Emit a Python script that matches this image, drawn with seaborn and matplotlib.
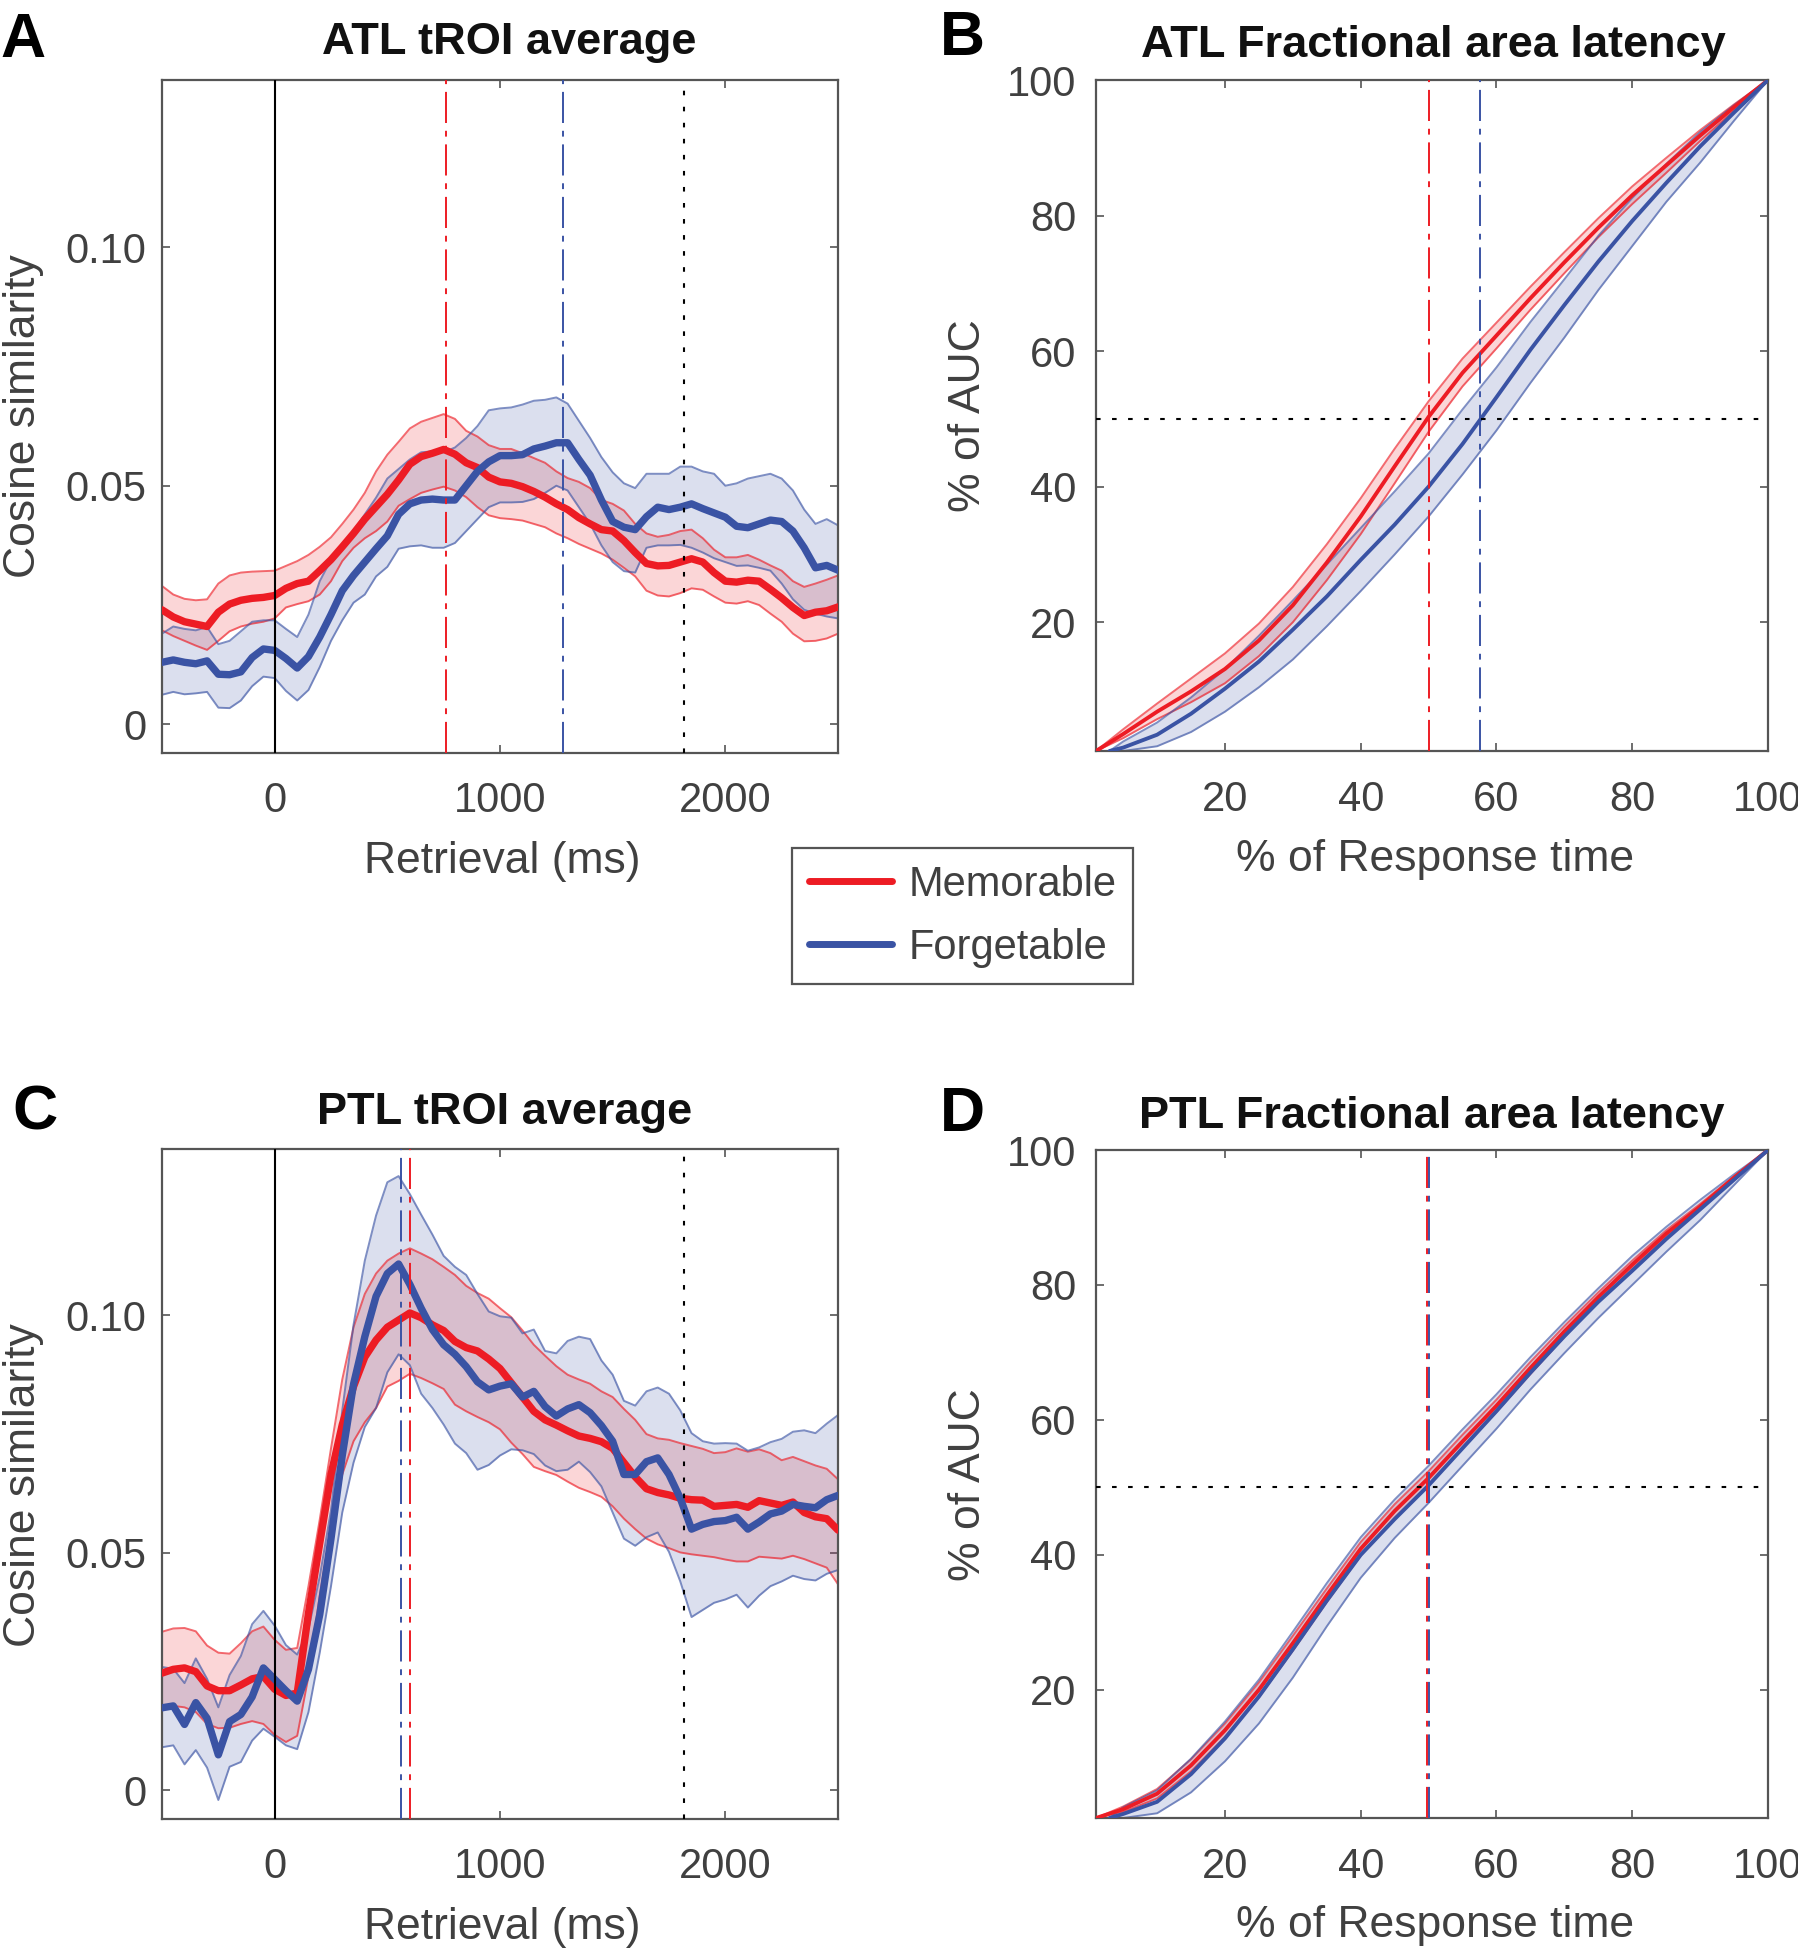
import matplotlib
matplotlib.use("Agg")
import matplotlib.pyplot as plt
from matplotlib.lines import Line2D
import seaborn as sns

sns.set_style("ticks")
plt.rcParams['font.family'] = ['Liberation Sans', 'DejaVu Sans']

RED = '#ED1C24'
BLUE = '#3A53A4'
GRAY = '#404040'

# ---- tROI time courses (ms) ----
time_ms = list(range(-500, 2501, 50))

atl_mem_mean = [0.0240, 0.0225, 0.0215, 0.0210, 0.0205, 0.0235, 0.0252, 0.0260, 0.0264, 0.0266,
                0.0270, 0.0285, 0.0295, 0.0300, 0.0322, 0.0345, 0.0372, 0.0400, 0.0430, 0.0456,
                0.0482, 0.0512, 0.0545, 0.0561, 0.0568, 0.0576, 0.0566, 0.0548, 0.0538, 0.0518,
                0.0508, 0.0505, 0.0498, 0.0488, 0.0476, 0.0462, 0.0450, 0.0433, 0.0420, 0.0408,
                0.0405, 0.0385, 0.0360, 0.0337, 0.0332, 0.0333, 0.0340, 0.0347, 0.0340, 0.0318,
                0.0300, 0.0298, 0.0302, 0.0300, 0.0283, 0.0265, 0.0245, 0.0228, 0.0235, 0.0238,
                0.0246]
atl_mem_hi = [0.0290, 0.0272, 0.0263, 0.0260, 0.0262, 0.0295, 0.0312, 0.0318, 0.0320, 0.0321,
              0.0322, 0.0332, 0.0342, 0.0355, 0.0372, 0.0392, 0.0420, 0.0450, 0.0485, 0.0530,
              0.0565, 0.0592, 0.0620, 0.0634, 0.0642, 0.0650, 0.0640, 0.0615, 0.0603, 0.0585,
              0.0577, 0.0577, 0.0568, 0.0558, 0.0548, 0.0530, 0.0516, 0.0508, 0.0495, 0.0470,
              0.0462, 0.0448, 0.0420, 0.0400, 0.0393, 0.0397, 0.0405, 0.0408, 0.0390, 0.0366,
              0.0350, 0.0350, 0.0355, 0.0345, 0.0333, 0.0322, 0.0300, 0.0288, 0.0295, 0.0303,
              0.0312]
atl_mem_lo = [0.0197, 0.0185, 0.0175, 0.0165, 0.0156, 0.0175, 0.0195, 0.0205, 0.0211, 0.0215,
              0.0222, 0.0245, 0.0252, 0.0258, 0.0272, 0.0300, 0.0342, 0.0370, 0.0390, 0.0405,
              0.0425, 0.0458, 0.0472, 0.0485, 0.0492, 0.0498, 0.0490, 0.0476, 0.0455, 0.0438,
              0.0432, 0.0430, 0.0427, 0.0420, 0.0413, 0.0400, 0.0390, 0.0378, 0.0368, 0.0358,
              0.0345, 0.0328, 0.0310, 0.0280, 0.0270, 0.0268, 0.0275, 0.0285, 0.0282, 0.0268,
              0.0255, 0.0253, 0.0258, 0.0250, 0.0232, 0.0215, 0.0190, 0.0174, 0.0175, 0.0180,
              0.0190]
atl_fgt_mean = [0.0130, 0.0135, 0.0130, 0.0127, 0.0133, 0.0105, 0.0104, 0.0110, 0.0140, 0.0158,
                0.0155, 0.0138, 0.0118, 0.0142, 0.0183, 0.0230, 0.0280, 0.0312, 0.0340, 0.0368,
                0.0395, 0.0440, 0.0462, 0.0470, 0.0472, 0.0470, 0.0470, 0.0500, 0.0530, 0.0550,
                0.0563, 0.0563, 0.0565, 0.0577, 0.0583, 0.0590, 0.0590, 0.0555, 0.0522, 0.0470,
                0.0425, 0.0413, 0.0408, 0.0435, 0.0455, 0.0450, 0.0455, 0.0462, 0.0452, 0.0443,
                0.0434, 0.0415, 0.0412, 0.0420, 0.0428, 0.0425, 0.0405, 0.0370, 0.0328, 0.0333,
                0.0323]
atl_fgt_hi = [0.0190, 0.0205, 0.0200, 0.0197, 0.0204, 0.0168, 0.0175, 0.0195, 0.0215, 0.0218,
              0.0218, 0.0200, 0.0183, 0.0230, 0.0300, 0.0345, 0.0375, 0.0405, 0.0440, 0.0475,
              0.0515, 0.0535, 0.0555, 0.0570, 0.0572, 0.0570, 0.0580, 0.0600, 0.0625, 0.0658,
              0.0662, 0.0664, 0.0670, 0.0678, 0.0680, 0.0685, 0.0672, 0.0636, 0.0600, 0.0560,
              0.0528, 0.0505, 0.0495, 0.0525, 0.0525, 0.0525, 0.0540, 0.0540, 0.0530, 0.0525,
              0.0500, 0.0505, 0.0515, 0.0520, 0.0525, 0.0515, 0.0490, 0.0450, 0.0420, 0.0430,
              0.0417]
atl_fgt_lo = [0.0062, 0.0068, 0.0063, 0.0065, 0.0068, 0.0035, 0.0034, 0.0050, 0.0080, 0.0100,
              0.0097, 0.0070, 0.0050, 0.0072, 0.0120, 0.0175, 0.0218, 0.0255, 0.0272, 0.0310,
              0.0330, 0.0368, 0.0373, 0.0375, 0.0370, 0.0370, 0.0380, 0.0405, 0.0430, 0.0455,
              0.0465, 0.0465, 0.0466, 0.0472, 0.0485, 0.0500, 0.0490, 0.0455, 0.0420, 0.0375,
              0.0340, 0.0321, 0.0318, 0.0370, 0.0375, 0.0375, 0.0376, 0.0370, 0.0360, 0.0348,
              0.0340, 0.0332, 0.0333, 0.0328, 0.0322, 0.0295, 0.0262, 0.0240, 0.0232, 0.0226,
              0.0222]

ptl_mem_mean = [0.0247, 0.0255, 0.0258, 0.0250, 0.0220, 0.0210, 0.0210, 0.0222, 0.0235, 0.0240,
                0.0213, 0.0200, 0.0205, 0.0373, 0.0520, 0.0665, 0.0770, 0.0850, 0.0912, 0.0948,
                0.0975, 0.0990, 0.1005, 0.0995, 0.0980, 0.0968, 0.0945, 0.0932, 0.0925, 0.0908,
                0.0888, 0.0858, 0.0828, 0.0798, 0.0780, 0.0769, 0.0757, 0.0746, 0.0741, 0.0734,
                0.0720, 0.0690, 0.0660, 0.0635, 0.0627, 0.0622, 0.0615, 0.0612, 0.0611, 0.0598,
                0.0600, 0.0602, 0.0596, 0.0610, 0.0605, 0.0600, 0.0607, 0.0585, 0.0576, 0.0572,
                0.0548]
ptl_mem_hi = [0.0334, 0.0341, 0.0342, 0.0335, 0.0305, 0.0290, 0.0288, 0.0310, 0.0335, 0.0345,
              0.0317, 0.0296, 0.0300, 0.0430, 0.0570, 0.0720, 0.0865, 0.0975, 0.1045, 0.1088,
              0.1115, 0.1130, 0.1141, 0.1130, 0.1118, 0.1102, 0.1085, 0.1062, 0.1047, 0.1035,
              0.1015, 0.0996, 0.0968, 0.0938, 0.0915, 0.0893, 0.0875, 0.0865, 0.0856, 0.0840,
              0.0828, 0.0803, 0.0780, 0.0750, 0.0741, 0.0738, 0.0731, 0.0725, 0.0719, 0.0710,
              0.0712, 0.0720, 0.0713, 0.0718, 0.0710, 0.0695, 0.0702, 0.0693, 0.0684, 0.0677,
              0.0655]
ptl_mem_lo = [0.0174, 0.0178, 0.0175, 0.0165, 0.0140, 0.0131, 0.0132, 0.0140, 0.0146, 0.0140,
              0.0117, 0.0102, 0.0115, 0.0240, 0.0410, 0.0550, 0.0665, 0.0735, 0.0775, 0.0805,
              0.0850, 0.0862, 0.0877, 0.0868, 0.0857, 0.0845, 0.0812, 0.0798, 0.0786, 0.0775,
              0.0760, 0.0732, 0.0708, 0.0681, 0.0672, 0.0664, 0.0650, 0.0637, 0.0628, 0.0618,
              0.0598, 0.0572, 0.0550, 0.0530, 0.0518, 0.0510, 0.0501, 0.0497, 0.0494, 0.0491,
              0.0486, 0.0482, 0.0482, 0.0492, 0.0490, 0.0488, 0.0494, 0.0487, 0.0478, 0.0469,
              0.0434]
ptl_fgt_mean = [0.0174, 0.0178, 0.0139, 0.0185, 0.0152, 0.0075, 0.0145, 0.0160, 0.0197, 0.0258,
                0.0234, 0.0210, 0.0188, 0.0255, 0.0370, 0.0530, 0.0705, 0.0855, 0.0955, 0.1040,
                0.1088, 0.1108, 0.1065, 0.1015, 0.0970, 0.0938, 0.0918, 0.0892, 0.0860, 0.0843,
                0.0851, 0.0856, 0.0828, 0.0840, 0.0808, 0.0788, 0.0803, 0.0812, 0.0795, 0.0768,
                0.0735, 0.0665, 0.0665, 0.0692, 0.0700, 0.0665, 0.0615, 0.0550, 0.0560, 0.0566,
                0.0568, 0.0575, 0.0550, 0.0565, 0.0582, 0.0588, 0.0602, 0.0598, 0.0595, 0.0612,
                0.0621]
ptl_fgt_hi = [0.0260, 0.0256, 0.0226, 0.0278, 0.0235, 0.0175, 0.0243, 0.0283, 0.0350, 0.0378,
              0.0347, 0.0306, 0.0286, 0.0340, 0.0450, 0.0590, 0.0800, 0.0980, 0.1115, 0.1210,
              0.1280, 0.1293, 0.1255, 0.1212, 0.1170, 0.1125, 0.1102, 0.1085, 0.1045, 0.1008,
              0.0998, 0.0995, 0.0962, 0.0970, 0.0925, 0.0920, 0.0946, 0.0955, 0.0950, 0.0905,
              0.0875, 0.0820, 0.0810, 0.0840, 0.0848, 0.0835, 0.0800, 0.0752, 0.0735, 0.0730,
              0.0731, 0.0730, 0.0715, 0.0722, 0.0733, 0.0740, 0.0755, 0.0758, 0.0752, 0.0772,
              0.0790]
ptl_fgt_lo = [0.0091, 0.0095, 0.0055, 0.0085, 0.0048, -0.0020, 0.0050, 0.0060, 0.0105, 0.0130,
              0.0113, 0.0095, 0.0087, 0.0165, 0.0290, 0.0430, 0.0585, 0.0690, 0.0765, 0.0805,
              0.0880, 0.0918, 0.0895, 0.0835, 0.0805, 0.0770, 0.0730, 0.0710, 0.0675, 0.0685,
              0.0705, 0.0718, 0.0716, 0.0708, 0.0684, 0.0672, 0.0675, 0.0692, 0.0670, 0.0640,
              0.0585, 0.0530, 0.0515, 0.0533, 0.0543, 0.0502, 0.0440, 0.0365, 0.0380, 0.0395,
              0.0402, 0.0412, 0.0385, 0.0410, 0.0430, 0.0440, 0.0452, 0.0445, 0.0442, 0.0456,
              0.0464]

# latency markers (ms)
atl_lat = {'mem': 761, 'fgt': 1280, 'rt': 1817}
ptl_lat = {'mem': 601, 'fgt': 559, 'rt': 1817}

# ---- fractional area latency curves (% of RT -> % of AUC) ----
pct_mem = [1, 5, 10, 15, 20, 25, 30, 35, 40, 45, 50, 55, 60, 65, 70, 75, 80, 85, 90, 95, 100]
pct_fgt = [3, 5, 10, 15, 20, 25, 30, 35, 40, 45, 50, 55, 60, 65, 70, 75, 80, 85, 90, 95, 100]

atl_auc_mem = [1.0, 3.5, 6.8, 9.8, 13.1, 17.3, 22.5, 28.8, 35.6, 43.0, 50.3,
               56.8, 62.3, 67.8, 73.1, 78.2, 83.0, 87.4, 91.8, 96.0, 100.0]
atl_auc_mem_hi = [1.0, 4.2, 8.0, 11.7, 15.4, 19.8, 25.2, 31.5, 38.3, 45.6, 52.6,
                  58.9, 64.2, 69.5, 74.6, 79.6, 84.3, 88.5, 92.6, 96.4, 100.0]
atl_auc_mem_lo = [1.0, 2.9, 5.7, 8.2, 11.0, 15.0, 20.0, 26.2, 33.0, 40.5, 48.1,
                  54.8, 60.4, 66.1, 71.5, 76.8, 81.7, 86.3, 91.0, 95.5, 100.0]
atl_auc_fgt = [1.0, 1.5, 3.4, 6.5, 10.2, 14.2, 18.9, 23.8, 29.2, 34.4, 40.0,
               46.3, 53.2, 60.2, 66.8, 73.2, 79.2, 84.8, 90.2, 95.2, 100.0]
atl_auc_fgt_hi = [1.0, 2.4, 5.2, 8.9, 13.1, 18.0, 23.2, 28.5, 33.9, 39.3, 44.9,
                  51.4, 57.6, 64.3, 70.6, 77.0, 82.6, 87.6, 92.3, 96.3, 100.0]
atl_auc_fgt_lo = [1.0, 1.0, 1.7, 3.8, 6.8, 10.4, 14.5, 19.4, 24.6, 30.0, 35.6,
                  41.8, 48.3, 55.3, 62.0, 69.0, 75.5, 82.0, 87.8, 94.0, 100.0]

ptl_auc_mem = [1.0, 2.3, 4.6, 8.8, 14.0, 20.0, 26.9, 34.0, 40.9, 46.5, 51.4,
               56.8, 62.1, 67.7, 73.1, 78.2, 83.0, 87.6, 91.6, 95.9, 100.0]
ptl_auc_mem_hi = [1.0, 2.7, 5.3, 9.7, 15.0, 21.1, 28.0, 35.0, 41.9, 47.5, 52.4,
                  57.8, 63.0, 68.6, 73.9, 78.9, 83.6, 88.1, 92.0, 96.1, 100.0]
ptl_auc_mem_lo = [1.0, 1.9, 3.9, 7.9, 13.0, 18.9, 25.8, 33.0, 39.9, 45.5, 50.4,
                  55.8, 61.2, 66.8, 72.3, 77.5, 82.4, 87.1, 91.2, 95.7, 100.0]
ptl_auc_fgt = [1.0, 1.6, 3.4, 7.5, 12.8, 19.0, 26.0, 33.2, 40.0, 45.3, 50.3,
               55.8, 61.3, 67.0, 72.4, 77.5, 82.1, 86.8, 91.2, 95.6, 100.0]
ptl_auc_fgt_hi = [1.0, 2.6, 5.1, 9.8, 15.3, 21.5, 28.6, 35.8, 42.6, 48.2, 53.2,
                  58.6, 63.8, 69.3, 74.5, 79.5, 84.3, 88.6, 92.6, 96.4, 100.0]
ptl_auc_fgt_lo = [1.0, 1.0, 1.7, 4.8, 9.4, 15.0, 21.8, 29.4, 36.6, 42.5, 47.7,
                  53.2, 58.7, 64.5, 69.9, 75.1, 80.0, 84.9, 89.6, 94.8, 100.0]

atl_fal = {'mem': 50.1, 'fgt': 57.5}
ptl_fal = {'mem': 49.7, 'fgt': 50.1}

W, H = 1799, 1955
fig = plt.figure(figsize=(W / 100, H / 100), dpi=100)

TICK_FS = 30
LABEL_FS = 32
TITLE_FS = 32.5


def box(l, t, r, b):
    return [l / W, 1 - b / H, (r - l) / W, (b - t) / H]


def band(ax, x, lo, hi, color):
    ax.fill_between(x, lo, hi, color=color, alpha=0.18, lw=0, zorder=1)
    sns.lineplot(x=x, y=lo, ax=ax, color=color, alpha=0.65, lw=1.4, zorder=2)
    sns.lineplot(x=x, y=hi, ax=ax, color=color, alpha=0.65, lw=1.4, zorder=2)


def style(ax, ypad, xpad):
    for s in ax.spines.values():
        s.set_visible(True)
        s.set_color('#555555')
        s.set_linewidth(1.6)
    ax.tick_params(direction='in', top=True, right=True, length=6, width=1.2,
                   color='#555555', labelsize=TICK_FS, labelcolor=GRAY)
    ax.tick_params(axis='y', pad=ypad)
    ax.tick_params(axis='x', pad=xpad)
    ax.set_xlabel('')
    ax.set_ylabel('')


DASHDOT = (0, (16, 4, 3, 4))
DOTTED = (0, (2.2, 5.5))


def troi_panel(rect, mean_m, lo_m, hi_m, mean_f, lo_f, hi_f, lat):
    ax = fig.add_axes(rect)
    band(ax, time_ms, lo_m, hi_m, RED)
    band(ax, time_ms, lo_f, hi_f, BLUE)
    sns.lineplot(x=time_ms, y=mean_m, ax=ax, color=RED, lw=5.3, zorder=3)
    sns.lineplot(x=time_ms, y=mean_f, ax=ax, color=BLUE, lw=5.3, zorder=4)
    ax.axvline(0, color='k', lw=1.5, zorder=5)
    ax.axvline(lat['mem'], color=RED, lw=1.4, ls=DASHDOT, zorder=5)
    ax.axvline(lat['fgt'], color=BLUE, lw=1.4, ls=DASHDOT, zorder=5)
    ax.axvline(lat['rt'], color='k', lw=1.5, ls=DOTTED, zorder=5)
    ax.set_xlim(-500, 2500)
    ax.set_ylim(-0.006, 0.135)
    ax.set_xticks([0, 1000, 2000])
    ax.set_yticks([0, 0.05, 0.10])
    ax.set_yticklabels(['0', '0.05', '0.10'])
    style(ax, 11, 20)
    return ax


def fal_panel(rect, m, m_lo, m_hi, f, f_lo, f_hi, lat):
    ax = fig.add_axes(rect)
    band(ax, pct_mem, m_lo, m_hi, RED)
    band(ax, pct_fgt, f_lo, f_hi, BLUE)
    sns.lineplot(x=pct_mem, y=m, ax=ax, color=RED, lw=2.8, zorder=3)
    sns.lineplot(x=pct_fgt, y=f, ax=ax, color=BLUE, lw=2.8, zorder=4)
    ax.axhline(50, color='k', lw=1.5, ls=DOTTED, zorder=5)
    ax.axvline(lat['mem'], color=RED, lw=1.4, ls=DASHDOT, zorder=5)
    ax.axvline(lat['fgt'], color=BLUE, lw=1.4, ls=DASHDOT, zorder=5)
    ax.set_xlim(1, 100)
    ax.set_ylim(1, 100)
    ax.set_xticks([20, 40, 60, 80, 100])
    ax.set_yticks([20, 40, 60, 80, 100])
    style(ax, 14, 21)
    return ax


troi_panel(box(162, 80, 838, 753), atl_mem_mean, atl_mem_lo, atl_mem_hi,
           atl_fgt_mean, atl_fgt_lo, atl_fgt_hi, atl_lat)
fal_panel(box(1096, 80, 1768, 751), atl_auc_mem, atl_auc_mem_lo, atl_auc_mem_hi,
          atl_auc_fgt, atl_auc_fgt_lo, atl_auc_fgt_hi, atl_fal)
troi_panel(box(162, 1149, 838, 1819), ptl_mem_mean, ptl_mem_lo, ptl_mem_hi,
           ptl_fgt_mean, ptl_fgt_lo, ptl_fgt_hi, ptl_lat)
fal_panel(box(1096, 1150, 1768, 1818), ptl_auc_mem, ptl_auc_mem_lo, ptl_auc_mem_hi,
          ptl_auc_fgt, ptl_auc_fgt_lo, ptl_auc_fgt_hi, ptl_fal)


def ftext(x, y, s, **kw):
    fig.text(x / W, 1 - y / H, s, **kw)


# titles, panel letters, axis labels
for x, y, s in [(509, 54, 'ATL tROI average'), (1433, 57, 'ATL Fractional area latency'),
                (505, 1124, 'PTL tROI average'), (1432, 1128, 'PTL Fractional area latency')]:
    ftext(x, y, s, ha='center', va='baseline', fontsize=TITLE_FS, fontweight='bold', color='#111111')
for x, y, s in [(0, 57, 'A'), (940, 55, 'B'), (12, 1130, 'C'), (940, 1131, 'D')]:
    ftext(x, y, s, ha='left', va='baseline', fontsize=45, fontweight='bold', color='black')

for y in (416, 1485):
    ftext(24, y, 'Cosine similarity', ha='center', va='center', rotation=90, fontsize=LABEL_FS, color=GRAY)
    ftext(969, y, '% of AUC', ha='center', va='center', rotation=90, fontsize=LABEL_FS, color=GRAY)
for y in (861, 1927):
    ftext(502, y, 'Retrieval (ms)', ha='center', va='center', fontsize=LABEL_FS, color=GRAY)
    ftext(1435, y - 2, '% of Response time', ha='center', va='center', fontsize=LABEL_FS, color=GRAY)

handles = [Line2D([], [], color=RED, lw=5), Line2D([], [], color=BLUE, lw=5)]
leg = fig.legend(handles, ['Memorable', 'Forgetable'], loc='upper left',
                 bbox_to_anchor=(792 / W, 1 - 848 / H), frameon=True, fancybox=False,
                 edgecolor='#555555', framealpha=1, fontsize=30, labelcolor=GRAY,
                 handlelength=2.0, handletextpad=0.4, borderpad=0.4, labelspacing=0.55,
                 borderaxespad=0)
leg.get_frame().set_linewidth(1.6)

fig.savefig('out.png', dpi=100)
